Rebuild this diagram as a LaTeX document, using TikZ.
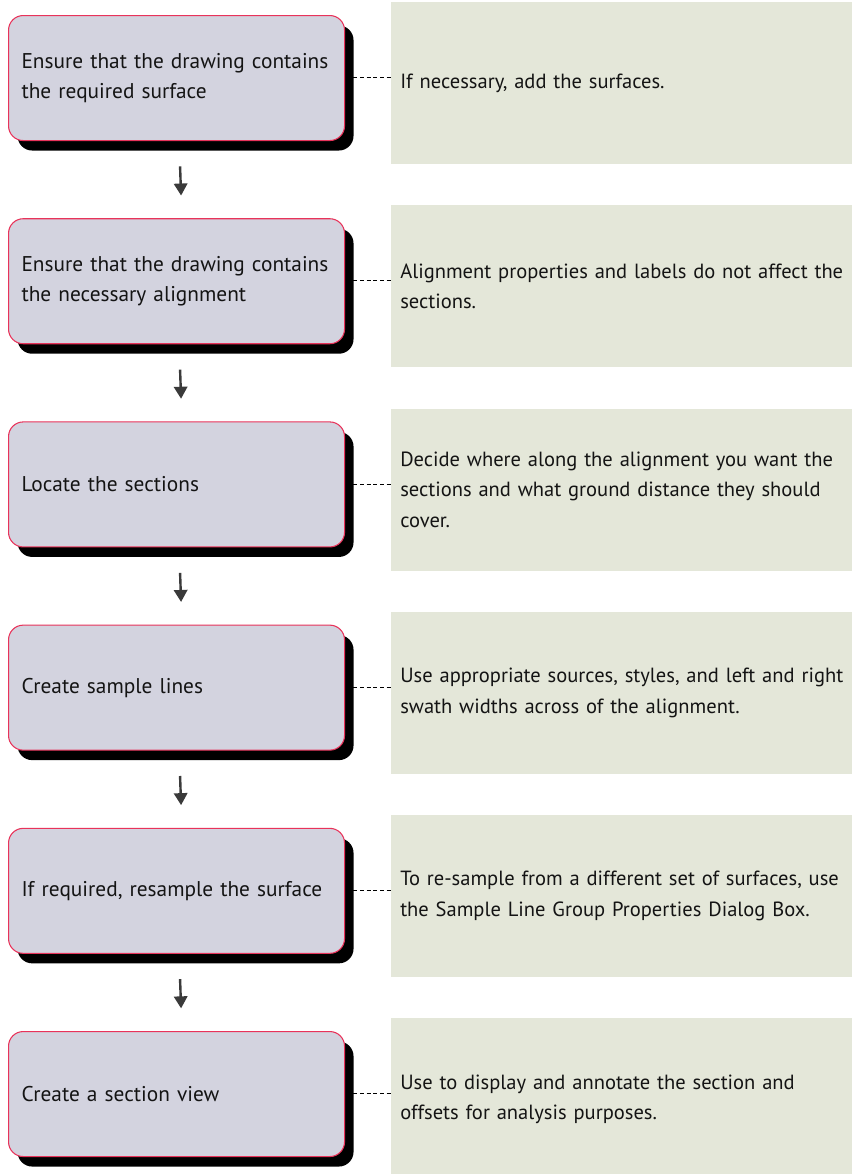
\documentclass[tikz,border=0pt]{standalone}
\usepackage{fontspec}
\setmainfont{PT Sans}
\usetikzlibrary{arrows.meta,shadows}
\definecolor{stepfill}{HTML}{D3D3DF}
\definecolor{stepline}{HTML}{E8335A}
\definecolor{notefill}{HTML}{E4E7D9}
\definecolor{arrowgray}{HTML}{3A3A3A}
\definecolor{inkc}{HTML}{141414}
\tikzset{
  txt/.style={font=\fontsize{16}{22.5}\selectfont, text=inkc},
  stepbox/.style={txt, draw=stepline, line width=0.8pt, fill=stepfill, rounded corners=11pt,
    anchor=north west, minimum width=252pt, minimum height=93.75pt, text width=232.5pt,
    inner xsep=9.75pt, align=left,
    general shadow={fill=black, draw=none, shadow xshift=6.75pt, shadow yshift=-7.5pt}},
  note/.style={txt, font=\fontsize{15.4}{23}\selectfont, fill=notefill, anchor=north west,
    minimum height=121.5pt, text width=380pt, inner xsep=6.75pt, align=left},
  link/.style={draw=black, line width=0.6pt, dash pattern=on 3pt off 2pt},
  flow/.style={-{Triangle[length=9pt, width=10pt]}, draw=arrowgray, line width=1.8pt,
    shorten <=19pt, shorten >=17pt}
}
\begin{document}
\begin{tikzpicture}[x=0.75pt, y=-0.75pt]
  \useasboundingbox (0,0) rectangle (852,1174);
  \clip (0,0) rectangle (852,1174);
  % notes on the right
  \node[note] (n1) at (391,2) {If necessary, add the surfaces.};
  \node[note] (n2) at (391,205.2) {Alignment properties and labels do not affect the\\sections.};
  \node[note] (n3) at (391,408.4) {Decide where along the alignment you want the\\sections and what ground distance they should\\cover.};
  \node[note] (n4) at (391,611.6) {Use appropriate sources, styles, and left and right\\swath widths across of the alignment.};
  \node[note] (n5) at (391,814.8) {To re-sample from a different set of surfaces, use\\the Sample Line Group Properties Dialog Box.};
  \node[note] (n6) at (391,1018) {Use to display and annotate the section and\\offsets for analysis purposes.};
  % dashed links (behind the boxes)
  \foreach \i/\y in {1/77.5, 2/280.7, 3/483.9, 4/687.1, 5/890.3, 6/1093.5}
    \draw[link] (340,\y) -- (n\i.west |- 0,\y);
  % steps
  \node[stepbox] (s1) at (8,15) {Ensure that the drawing contains\\the required surface};
  \node[stepbox] (s2) at (8,218.2) {Ensure that the drawing contains\\the necessary alignment};
  \node[stepbox] (s3) at (8,421.4) {Locate the sections};
  \node[stepbox] (s4) at (8,624.6) {Create sample lines};
  \node[stepbox] (s5) at (8,827.8) {If required, resample the surface};
  \node[stepbox] (s6) at (8,1031) {Create a section view};
  % flow arrows
  \foreach \a/\b in {s1/s2, s2/s3, s3/s4, s4/s5, s5/s6}
    \draw[flow] ([xshift=2pt]\a.south) -- ([xshift=4pt]\b.north);
\end{tikzpicture}
\end{document}
